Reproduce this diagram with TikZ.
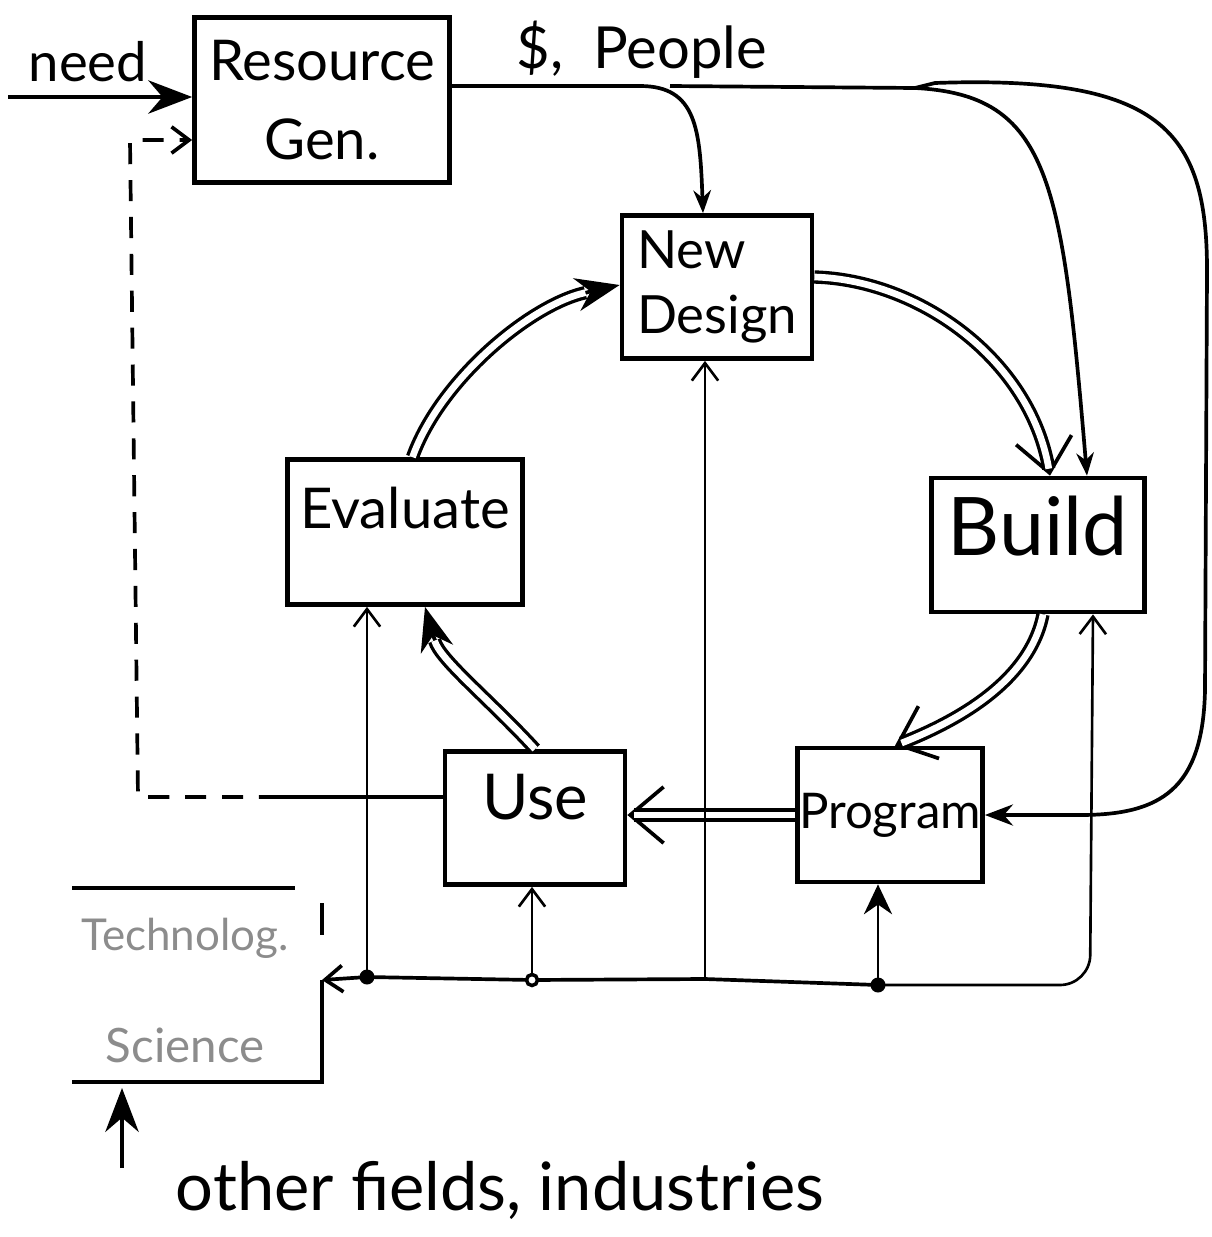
\documentclass[tikz,border=0pt]{standalone}
\usepackage{fontspec}
\setmainfont{Lato}
\usetikzlibrary{arrows.meta}

% a double cycle arrow: thin line carries the tip, double line drawn over it
\newcommand{\cyclearrow}[3]{%
  \draw[link, #1] #3;
  \draw[dbl, shorten >=#2] #3;}

\begin{document}
\begin{tikzpicture}[x=0.02cm, y=-0.02cm, thick,
    main/.style = {draw, rectangle, line width=2.7pt, inner sep=0pt, align=center},
    link/.style = {line width=2.1pt},
    wire/.style = {line width=1.5pt},
    dbl/.style = {double, double distance=3.8pt, line width=1.9pt},
    fat/.style = {-{Stealth[length=25pt,width=19pt]}},
    barb/.style = {-{Straight Barb[length=10pt,width=15pt]}},
    vee/.style = {-{Straight Barb[length=19pt,width=32pt]}}]
    \useasboundingbox (0,0) rectangle (1211,1237);

    % boxes of the cycle
    \node[main, minimum width=5.1cm, minimum height=3.3cm,
          font=\fontsize{32}{45}\selectfont] (res) at (322,100) {Resource\\Gen.};
    \node[main, minimum width=3.8cm, minimum height=2.86cm, align=left,
          font=\fontsize{30}{37}\selectfont] (design) at (717,287) {New\\Design};
    \node[main, minimum width=4.26cm, minimum height=2.68cm, text depth=22pt,
          font=\fontsize{46}{50}\selectfont] (build) at (1038,545) {Build};
    \node[main, minimum width=4.7cm, minimum height=2.9cm, text depth=28pt,
          font=\fontsize{32}{36}\selectfont] (eval) at (405,532) {Evaluate};
    \node[main, minimum width=3.6cm, minimum height=2.66cm, text depth=24pt,
          font=\fontsize{36}{40}\selectfont] (use) at (535,818) {Use};
    \node[main, minimum width=3.7cm, minimum height=2.68cm,
          font=\fontsize{28}{30}\selectfont] (prog) at (890,815) {Program};

    % free labels
    \node[font=\fontsize{31}{34}\selectfont] (need) at (88,62) {need};
    \node[font=\fontsize{33}{36}\selectfont] (money) at (642,50) {\$,\ \ People};
    \node[font=\fontsize{25}{28}\selectfont, black!45] (tech) at (185,938) {Technolog.};
    \node[font=\fontsize{27}{30}\selectfont, black!45] (sci) at (185,1045) {Science};
    \node[font=\fontsize{38}{42}\selectfont] (other) at (500,1190) {other fields, industries};

    % points off the boxes
    \coordinate (in) at (8,97);
    \coordinate (fb1) at (280,797);
    \coordinate (fb2) at (138,797);
    \coordinate (fb3) at (130,140);
    \coordinate (r1) at (640,86);
    \coordinate (b0) at (670,86);
    \coordinate (split) at (915,88);
    \coordinate (jEval) at (367,977);
    \coordinate (jUse) at (532,980);
    \coordinate (jDes) at (705,979);
    \coordinate (jProg) at (878,985);
    \coordinate (corner) at (1090,985);
    \coordinate (techR) at (322,980);
    \coordinate (foot) at (122,1168);
    \coordinate (techB) at (122,1088);

    % inputs to resource generation
    \draw[link, fat] (in) -- (res.west |- in);
    \draw[link] (use.west |- fb1) -- (fb1);
    \draw[link, dashed, dash pattern=on 12pt off 9pt, barb] (fb1) -- (fb2) -- (fb3) -- (res.west |- fb3);

    % money and people out
    \draw[link, -{Stealth[length=13pt,width=10pt]}] (res.east |- r1) -- (r1)
        .. controls (697,86) and (700,130) .. ([xshift=-0.28cm]design.north);
    \draw[link] (b0) -- (split);
    \draw[link, -{Stealth[length=13pt,width=10pt]}] (split)
        .. controls (1050,95) and (1062,180) .. ([xshift=0.98cm]build.north);
    \draw[link, -{Stealth[length=16pt,width=12pt]}] (split) -- (935,83)
        .. controls (1160,75) and (1207,130) .. (1207,270) -- (1205,690)
        .. controls (1203,790) and (1160,815) .. (1080,815) -- (prog.east);

    % the cycle
    \cyclearrow{vee}{4pt}{([yshift=0.2cm]design.east)
        .. controls (920,280) and (1030,360) .. ([xshift=0.24cm]build.north)}
    \cyclearrow{vee}{4pt}{([xshift=0.1cm]build.south)
        .. controls (1030,680) and (960,720) .. ([xshift=0.1cm]prog.north)}
    \cyclearrow{vee}{4pt}{(prog.west) -- (use.east |- prog.west)}
    \cyclearrow{fat}{20pt}{(use.north)
        .. controls (490,700) and (440,660) .. ([xshift=0.4cm]eval.south)}
    \cyclearrow{fat}{20pt}{([xshift=0.15cm]eval.north)
        .. controls (440,380) and (530,305) .. ([yshift=0.04cm]design.west)}

    % technology bus
    \draw[link, barb] (jProg) -- (jDes) -- (jUse) -- (jEval) -- (techR);
    \draw[wire, barb, rounded corners=0.6cm] (jProg) -- (corner) -- ([xshift=1.1cm]build.south);
    \draw[wire, barb] (jEval) -- (jEval |- eval.south);
    \draw[wire, barb] (jUse) -- (jUse |- use.south);
    \draw[wire, barb] (jDes) -- (jDes |- design.south);
    \draw[wire, -{Stealth[length=17pt,width=16pt]}] (jProg) -- (jProg |- prog.south);
    \fill (jEval) circle[radius=0.15cm];
    \draw[line width=2pt, fill=white] (jUse) circle[radius=0.11cm];
    \fill (jProg) circle[radius=0.15cm];

    % technology / science box
    \draw[line width=2.4pt] (72,888) -- (295,888);
    \draw[line width=2.4pt] (322,903) -- (322,935);
    \draw[line width=2.4pt] (techR) -- (322,1082) -- (72,1082);
    \draw[link, fat] (foot) -- (techB);
\end{tikzpicture}
\end{document}
